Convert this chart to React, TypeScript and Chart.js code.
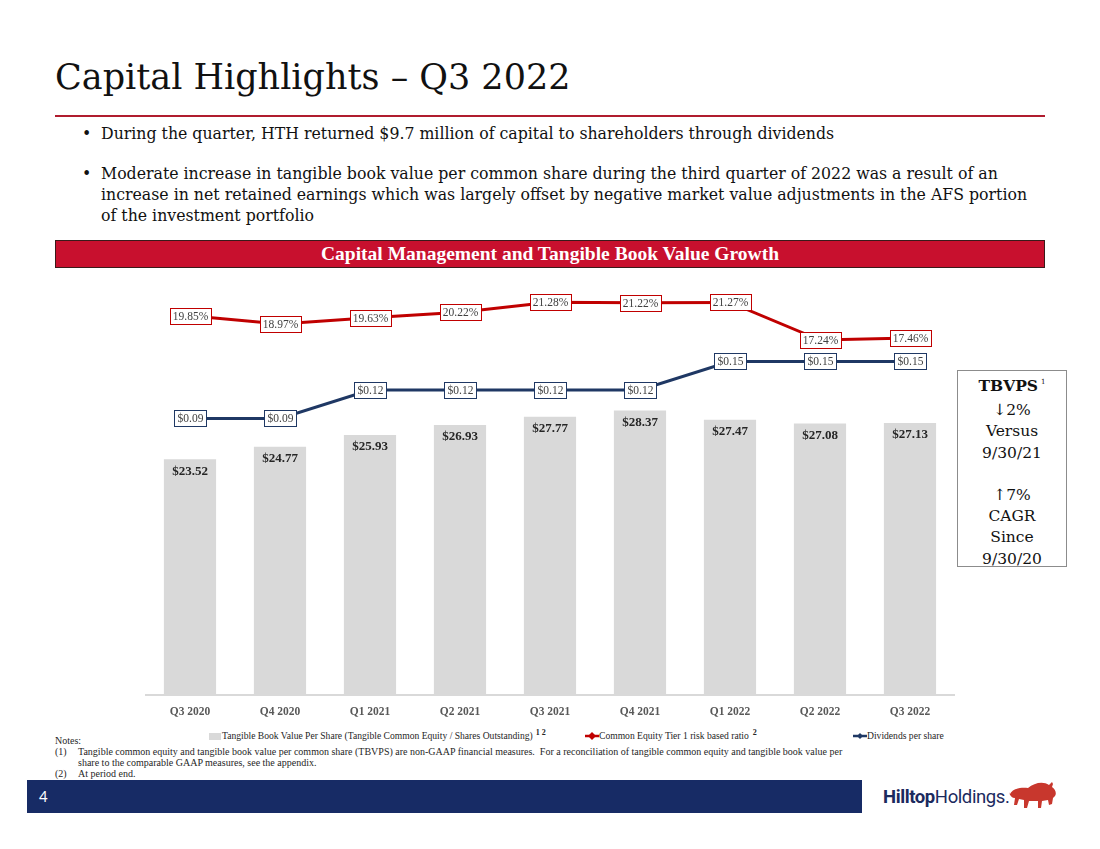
import React, { useEffect, useRef } from 'react';
import { Chart, registerables } from 'chart.js';

Chart.register(...registerables);

const categories = ['Q3 2020', 'Q4 2020', 'Q1 2021', 'Q2 2021', 'Q3 2021', 'Q4 2021', 'Q1 2022', 'Q2 2022', 'Q3 2022'];
const tbvps = [23.52, 24.77, 25.93, 26.93, 27.77, 28.37, 27.47, 27.08, 27.13];
const cet1Ratio = [19.85, 18.97, 19.63, 20.22, 21.28, 21.22, 21.27, 17.24, 17.46];
const dividends = [0.09, 0.09, 0.12, 0.12, 0.12, 0.12, 0.15, 0.15, 0.15];

const legendLabels = [
  'Tangible Book Value Per Share (Tangible Common Equity / Shares Outstanding)',
  'Common Equity Tier 1 risk based ratio',
  'Dividends per share',
];

const RED = '#C00000';
const NAVY = '#1F3864';
const BAR = '#D9D9D9';
const SERIF = '"DejaVu Serif", serif';
const TSERIF = '"Liberation Serif", serif';

const labelPlugin = {
  id: 'valueLabels',
  afterDatasetsDraw(chart: any) {
    const ctx = chart.ctx;
    ctx.save();
    ctx.textAlign = 'center';
    ctx.textBaseline = 'middle';
    const barMeta = chart.getDatasetMeta(0);
    ctx.font = 'bold 13px "Liberation Serif"';
    ctx.fillStyle = '#262626';
    barMeta.data.forEach((el: any, i: number) => {
      ctx.fillText('$' + tbvps[i].toFixed(2), el.x, el.y + 12);
    });
    const sets = [
      { idx: 1, vals: cet1Ratio, fmt: (v: number) => v.toFixed(2) + '%', color: RED },
      { idx: 2, vals: dividends, fmt: (v: number) => '$' + v.toFixed(2), color: NAVY },
    ];
    ctx.font = '11.5px "Liberation Serif"';
    sets.forEach((s) => {
      const meta = chart.getDatasetMeta(s.idx);
      meta.data.forEach((el: any, i: number) => {
        const t = s.fmt(s.vals[i]);
        const w = Math.round(ctx.measureText(t).width + 6);
        const h = 16;
        const x0 = Math.round(el.x - w / 2);
        const y0 = Math.round(el.y - h / 2);
        ctx.fillStyle = '#ffffff';
        ctx.fillRect(x0, y0, w, h);
        ctx.strokeStyle = s.color;
        ctx.lineWidth = 1;
        ctx.strokeRect(x0 + 0.5, y0 + 0.5, w, h);
        ctx.fillStyle = '#404040';
        ctx.fillText(t, el.x + 0.5, el.y + 1);
      });
    });
    ctx.restore();
  },
};

function CapitalChart() {
  const ref = useRef<HTMLCanvasElement | null>(null);
  useEffect(() => {
    if (!ref.current) return;
    const chart = new Chart(ref.current, {
      type: 'bar',
      data: {
        labels: categories,
        datasets: [
          {
            type: 'bar',
            label: legendLabels[0],
            data: tbvps,
            backgroundColor: BAR,
            yAxisID: 'y',
            barPercentage: 0.58,
            categoryPercentage: 1,
            order: 3,
          } as any,
          {
            type: 'line',
            label: legendLabels[1],
            data: cet1Ratio,
            borderColor: RED,
            backgroundColor: RED,
            borderWidth: 3,
            pointRadius: 0,
            tension: 0,
            yAxisID: 'yR',
            order: 1,
          } as any,
          {
            type: 'line',
            label: legendLabels[2],
            data: dividends,
            borderColor: NAVY,
            backgroundColor: NAVY,
            borderWidth: 3,
            pointRadius: 0,
            tension: 0,
            yAxisID: 'yB',
            order: 2,
          } as any,
        ],
      },
      options: {
        animation: false,
        responsive: false,
        maintainAspectRatio: false,
        layout: { padding: 0 },
        plugins: { legend: { display: false }, tooltip: { enabled: false } },
        scales: {
          x: {
            grid: { display: false, drawTicks: false },
            border: { display: true, color: '#D9D9D9', width: 2 },
            ticks: {
              padding: 10,
              color: '#595959',
              font: { family: '"Liberation Serif"', size: 11.5, weight: 'bold' },
            },
            afterFit: (s: any) => {
              s.height = 30;
            },
          },
          y: { display: false, min: 0, max: 41.9 },
          yR: { display: false, min: -20.72, max: 24.2 },
          yB: { display: false, min: -0.201, max: 0.241 },
        },
      } as any,
      plugins: [labelPlugin],
    });
    return () => chart.destroy();
  }, []);
  return (
    <canvas
      ref={ref}
      width={810}
      height={450}
      style={{ position: 'absolute', left: 145, top: 275, width: 810, height: 450 }}
    />
  );
}

function Bison() {
  return (
    <svg width={50} height={30} viewBox="0 0 50 30" style={{ position: 'absolute', left: 1008, top: 781 }}>
      <path
        d="M2,13 C4,8 12,6 20,7 C26,2 35,0 41,4 L44,1 L45,3 L44,6 C47,8 49,12 47,15 L45,17 L44,23 L41,24 L40,19 L34,20 L33,27 L30,27 L30,20 L21,20 L19,27 L16,27 L16,19 L11,18 L9,24 L6,24 L7,17 C4,17 2,15 1,11 L0,9 Z"
        fill="#C8372D"
      />
    </svg>
  );
}

export default function App() {
  const abs = (s: any) => ({ position: 'absolute' as const, whiteSpace: 'nowrap' as const, ...s });
  const bulletFont = 15.75;
  return (
    <div
      style={{
        position: 'absolute',
        left: 0,
        top: 0,
        width: 1100,
        height: 849,
        overflow: 'hidden',
        background: '#fff',
        fontFamily: SERIF,
        color: '#111',
      }}
    >
      <div style={abs({ left: 55, top: 55, fontSize: 35, lineHeight: '44px', color: '#111' })}>
        Capital Highlights – Q3 2022
      </div>
      <div style={abs({ left: 55, top: 115, width: 990, height: 2, background: '#B01C2E' })} />

      <div style={abs({ left: 82, top: 122.5, fontSize: bulletFont, lineHeight: '21px' })}>•</div>
      <div style={abs({ left: 101, top: 122.5, fontSize: bulletFont, lineHeight: '21px' })}>
        During the quarter, HTH returned $9.7 million of capital to shareholders through dividends
      </div>
      <div style={abs({ left: 82, top: 162.5, fontSize: bulletFont, lineHeight: '21px' })}>•</div>
      <div style={abs({ left: 101, top: 162.5, fontSize: bulletFont, lineHeight: '21px' })}>
        Moderate increase in tangible book value per common share during the third quarter of 2022 was a result of an
        <br />
        increase in net retained earnings which was largely offset by negative market value adjustments in the AFS portion
        <br />
        of the investment portfolio
      </div>

      <div
        style={abs({
          left: 55,
          top: 240,
          width: 990,
          height: 28,
          boxSizing: 'border-box',
          border: '1px solid #3a1a1a',
          background: '#C8102E',
          color: '#fff',
          fontFamily: TSERIF,
          fontWeight: 'bold',
          fontSize: 19.5,
          lineHeight: '26px',
          textAlign: 'center',
        })}
      >
        Capital Management and Tangible Book Value Growth
      </div>

      <CapitalChart />

      {/* legend */}
      <div style={abs({ left: 209, top: 733, width: 12, height: 7, background: BAR })} />
      <div style={abs({ left: 222, top: 730, fontFamily: TSERIF, fontSize: 9.6, lineHeight: '12px', color: '#262626' })}>
        {legendLabels[0]}
        <span style={{ fontSize: 8, position: 'relative', top: -4, marginLeft: 3, fontWeight: 'bold' }}>1 2</span>
      </div>
      <svg width={14} height={8} style={{ position: 'absolute', left: 585, top: 732 }}>
        <line x1={0} y1={4} x2={14} y2={4} stroke={RED} strokeWidth={2.5} />
        <path d="M7,0 L11,4 L7,8 L3,4 Z" fill={RED} />
      </svg>
      <div style={abs({ left: 599, top: 730, fontFamily: TSERIF, fontSize: 9.6, lineHeight: '12px', color: '#262626' })}>
        {legendLabels[1]}
        <span style={{ fontSize: 8, position: 'relative', top: -4, marginLeft: 4, fontWeight: 'bold' }}>2</span>
      </div>
      <svg width={14} height={8} style={{ position: 'absolute', left: 853, top: 732 }}>
        <line x1={0} y1={4} x2={14} y2={4} stroke={NAVY} strokeWidth={2.5} />
        <path d="M7,1 L10,4 L7,7 L4,4 Z" fill={NAVY} />
      </svg>
      <div style={abs({ left: 867, top: 730, fontFamily: TSERIF, fontSize: 9.6, lineHeight: '12px', color: '#262626' })}>
        {legendLabels[2]}
      </div>

      {/* TBVPS box */}
      <div
        style={abs({
          left: 957,
          top: 370,
          width: 110,
          height: 197,
          boxSizing: 'border-box',
          border: '1px solid #8c8c8c',
          paddingTop: 4,
          textAlign: 'center',
          fontSize: 15.5,
          lineHeight: '21.2px',
          color: '#111',
        })}
      >
        <div style={{ fontWeight: 'bold' }}>
          TBVPS<span style={{ fontSize: 7, fontWeight: 'normal', position: 'relative', top: -7, marginLeft: 3 }}>1</span>
        </div>
        <div>↓2%</div>
        <div>Versus</div>
        <div>9/30/21</div>
        <div>&nbsp;</div>
        <div>↑7%</div>
        <div>CAGR</div>
        <div>Since</div>
        <div>9/30/20</div>
      </div>

      {/* notes */}
      <div style={abs({ left: 55, top: 735, fontFamily: TSERIF, fontSize: 10, lineHeight: '11px', color: '#262626' })}>Notes:</div>
      <div style={abs({ left: 55, top: 746, fontFamily: TSERIF, fontSize: 10, lineHeight: '11px', color: '#262626' })}>(1)</div>
      <div style={abs({ left: 78, top: 746, fontFamily: TSERIF, fontSize: 10, lineHeight: '11px', color: '#262626' })}>
        Tangible common equity and tangible book value per common share (TBVPS) are non-GAAP financial measures.&nbsp; For a reconciliation of tangible common equity and tangible book value per
        <br />
        share to the comparable GAAP measures, see the appendix.
      </div>
      <div style={abs({ left: 55, top: 768, fontFamily: TSERIF, fontSize: 10, lineHeight: '11px', color: '#262626' })}>(2)</div>
      <div style={abs({ left: 78, top: 768, fontFamily: TSERIF, fontSize: 10, lineHeight: '11px', color: '#262626' })}>At period end.</div>

      {/* footer */}
      <div style={abs({ left: 27, top: 780, width: 835, height: 33, background: '#172B65' })} />
      <div style={abs({ left: 39, top: 780, height: 33, lineHeight: '33px', color: '#fff', fontFamily: 'Lato, sans-serif', fontSize: 15 })}>4</div>
      <div style={abs({ left: 883, top: 786, lineHeight: '22px', fontFamily: 'Roboto, sans-serif', fontSize: 18.5, color: '#1B2A5E', letterSpacing: -0.4 })}>
        <span style={{ fontWeight: 'bold' }}>Hilltop</span>Holdings.
      </div>
      <Bison />
    </div>
  );
}
